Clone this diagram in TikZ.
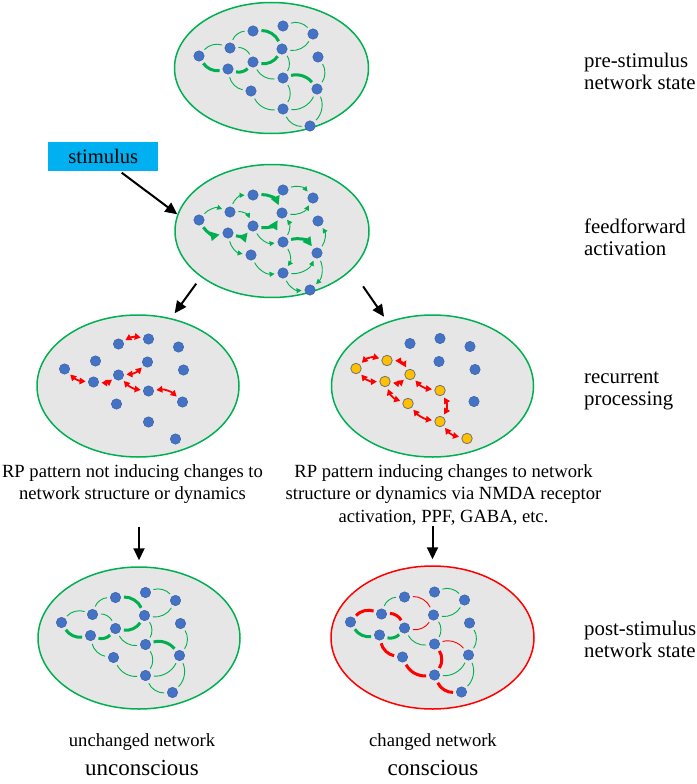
\documentclass[tikz,border=0pt]{standalone}
\usepackage{fontspec}
\setmainfont{Liberation Serif}
\usetikzlibrary{shapes.geometric,arrows.meta}

\definecolor{netgreen}{RGB}{0,176,80}
\definecolor{netred}{RGB}{255,0,0}
\definecolor{dotblue}{RGB}{68,114,196}
\definecolor{dotyellow}{RGB}{255,192,0}
\definecolor{stimblue}{RGB}{0,176,240}
\definecolor{cellgray}{RGB}{230,230,230}

\tikzset{
  cell/.style={ellipse, draw=netgreen, fill=cellgray, line width=1.5pt, inner sep=0pt, minimum width=194pt, minimum height=131pt},
  dot/.style={circle, fill=dotblue, draw=dotblue!80!black, line width=0.4pt, inner sep=0pt, minimum size=10.5pt},
  ydot/.style={dot, fill=dotyellow, draw=black!55, line width=0.8pt},
  thinlink/.style={netgreen, line width=0.9pt, shorten <=3pt, shorten >=3pt},
  thicklink/.style={netgreen, line width=3pt, shorten <=3pt, shorten >=3pt},
  ffthin/.style={thinlink, -{Triangle[length=5pt,width=5pt]}},
  ffthick/.style={thicklink, -{Triangle[length=9pt,width=9pt]}},
  rp/.style={{Triangle[length=6pt,width=6.5pt]}-{Triangle[length=6pt,width=6.5pt]}, netred, line width=1.8pt, shorten <=2.5pt, shorten >=2.5pt},
  flow/.style={-{Triangle[length=12pt,width=11pt]}, line width=2pt},
  stimbox/.style={fill=stimblue, minimum width=110pt, minimum height=29pt, inner sep=0pt, font=\fontsize{20.6}{22}\selectfont},
  sidelabel/.style={anchor=base west, align=left, inner sep=0pt, font=\fontsize{20.8}{22}\selectfont},
  caption/.style={anchor=base, align=center, inner sep=0pt, font=\fontsize{18.6}{22.5}\selectfont},
  verdict/.style={anchor=base, inner sep=0pt, font=\fontsize{23}{26}\selectfont}
}

% dot positions, relative to each network's origin
\def\dotlist{a/-72/-12, b/-41/-20, c/-18/-37, d/12/-42, e/42/-34, f/11/-19, g/-18/-6,
  h/-43/1, i/47/-11, j/12/10, k/46/21, l/-20/23, m/12/41, n/39/58}
% links: from/to/bend
\def\thinlinks{a/b/35, b/c/35, d/e/35, f/e/-35, b/g/35, h/l/-35, g/j/-35, j/f/-35,
  k/i/-35, l/m/-35, j/m/35, m/k/-35, m/n/-35, k/n/35}
\def\thicklinks{c/f/35, a/h/-35, h/g/-35, g/f/-35, j/k/35}

\begin{document}
\begin{tikzpicture}[x=1pt,y=1pt,yscale=-1,xscale=1]
\useasboundingbox (0,0) rectangle (696,784);

% Cells
\node[cell] (prenet) at (271.5,68) {};
\node[cell, minimum height=133pt] (ffnet) at (272,231) {};
\node[cell, minimum width=202pt, minimum height=142pt] (rlnet) at (138,386) {};
\node[cell, minimum width=202pt, minimum height=142pt] (rrnet) at (432.5,386) {};
\node[cell, minimum width=202pt, minimum height=142pt] (ulnet) at (139,638) {};
\node[cell, draw=netred, minimum width=203pt, minimum height=143pt] (chnet) at (432.5,637.5) {};

% Dots
\begin{scope}[shift={(271,68)}]
\foreach \n/\x/\y in \dotlist \node[dot] (pre\n) at (\x,\y) {};
\end{scope}
\begin{scope}[shift={(271,232)}]
\foreach \n/\x/\y in \dotlist \node[dot] (ff\n) at (\x,\y) {};
\end{scope}
\begin{scope}[shift={(136.5,381)}]
\foreach \n/\x/\y in \dotlist \node[dot] (rl\n) at (\x,\y) {};
\end{scope}
\begin{scope}[shift={(428,380.5)}]
\foreach \n/\x/\y/\k in {a/-72/-12/ydot, b/-41/-20/ydot, c/-18/-37/dot, d/12/-42/dot,
  e/42/-34/dot, f/11/-19/dot, g/-18/-6/ydot, h/-43/1/ydot, i/47/-11/dot, j/12/10/ydot,
  k/46/21/dot, l/-20/23/ydot, m/12/41/ydot, n/39/58/ydot}
  \node[\k] (rr\n) at (\x,\y) {};
\end{scope}
\begin{scope}[shift={(133.5,634.5)}]
\foreach \n/\x/\y in \dotlist \node[dot] (ul\n) at (\x,\y) {};
\end{scope}
\begin{scope}[shift={(422.5,634)}]
\foreach \n/\x/\y in \dotlist \node[dot] (ch\n) at (\x,\y) {};
\end{scope}

% Links (unflipped, so that bends turn the way they look)
\begin{scope}[yscale=-1]
\foreach \s/\t/\a in \thinlinks {
  \draw[thinlink] (pre\s) to[bend left=\a] (pre\t);
  \draw[ffthin] (ff\s) to[bend left=\a] (ff\t);
  \draw[thinlink] (ul\s) to[bend left=\a] (ul\t);
}
\foreach \s/\t/\a in \thicklinks {
  \draw[thicklink] (pre\s) to[bend left=\a] (pre\t);
  \draw[ffthick] (ff\s) to[bend left=\a] (ff\t);
  \draw[thicklink] (ul\s) to[bend left=\a] (ul\t);
}
% recurrent pairs
\foreach \s/\t/\a in {c/d/20, a/h/-20, h/g/-20, g/f/-20, g/j/-20, j/k/25}
  \draw[rp] (rl\s) to[bend left=\a] (rl\t);
\foreach \s/\t/\a in {a/b/30, b/g/30, a/h/-25, h/g/-25, h/l/-25, g/j/-20, j/m/30, l/m/-20, m/n/-20}
  \draw[rp] (rr\s) to[bend left=\a] (rr\t);
% changed network
\foreach \s/\t/\a in {b/c/35, d/e/35, f/e/-35, g/j/-35, j/f/-35, k/i/-35, m/k/-35, k/n/35}
  \draw[thinlink] (ch\s) to[bend left=\a] (ch\t);
\foreach \s/\t/\a in {a/h/-35, h/g/-35}
  \draw[thicklink] (ch\s) to[bend left=\a] (ch\t);
\foreach \s/\t/\a in {c/f/35, g/f/-35, j/k/35}
  \draw[thinlink, netred] (ch\s) to[bend left=\a] (ch\t);
\foreach \s/\t/\a in {a/b/35, b/g/35, h/l/-35, l/m/-35, j/m/35, m/n/-35}
  \draw[thicklink, netred] (ch\s) to[bend left=\a] (ch\t);
\end{scope}

% Stimulus
\node[stimbox] (stim) at (103.3,156.2) {stimulus};

% Text
\node[sidelabel] (prelbl) at (584,89.5) {pre-stimulus\\network state};
\node[sidelabel] (fflbl) at (584,255) {feedforward\\activation};
\node[sidelabel] (rclbl) at (584,405) {recurrent\\processing};
\node[sidelabel] (postlbl) at (584,657) {post-stimulus\\network state};
\node[caption] (lcap) at (132.5,499.5) {RP pattern not inducing changes to\\network structure or dynamics};
\node[caption] (rcap) at (443.5,522) {RP pattern inducing changes to network\\structure or dynamics via NMDA receptor\\activation, PPF, GABA, etc.};
\node[caption] (ullbl) at (142,746) {unchanged network};
\node[caption] (chlbl) at (433,746) {changed network};
\node[verdict] (uncons) at (142,775) {unconscious};
\node[verdict] (cons) at (433,775) {conscious};

% Arrows
\draw[flow, shorten <=3pt] ([xshift=16pt]stim.south) -- (ffnet.170);
\draw[flow, shorten <=8pt, shorten >=6pt] (ffnet.213) -- (rlnet.64);
\draw[flow, shorten <=20pt, shorten >=6pt] (ffnet.334) -- (rrnet.125);
\draw[flow, shorten <=23pt, shorten >=6pt] (lcap.south -| ulnet.north) -- (ulnet.north);
\draw[flow, shorten <=1pt, shorten >=6pt] (rcap.south -| chnet.north) -- (chnet.north);

\end{tikzpicture}
\end{document}
